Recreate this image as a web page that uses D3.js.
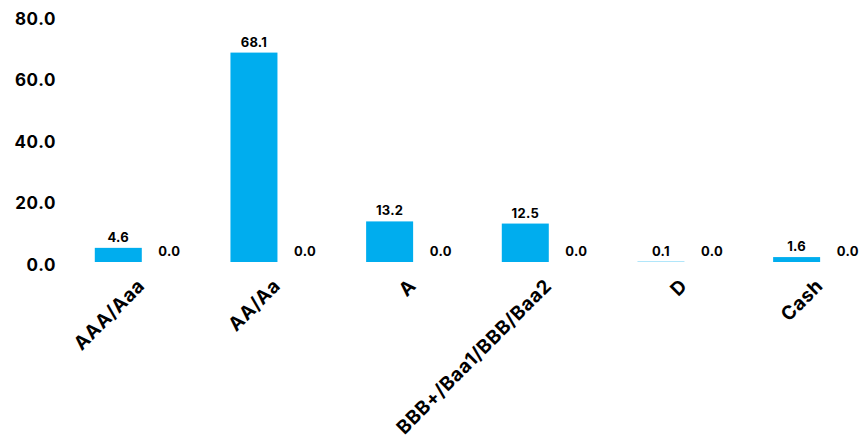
<!DOCTYPE html>
<html>
<head>
<meta charset="utf-8">
<script src="https://cdn.jsdelivr.net/npm/d3@7"></script>
<style>
  html, body { margin: 0; padding: 0; background: #fff; }
  svg { display: block; font-family: "Inter", "Noto Sans", sans-serif; }
</style>
</head>
<body>
<svg id="chart" width="862" height="440"></svg>
<script>
const categories = ["AAA/Aaa", "AA/Aa", "A", "BBB+/Baa1/BBB/Baa2", "D", "Cash"];
const seriesNames = ["Fund", "Benchmark"];
const fundValues = [4.6, 68.1, 13.2, 12.5, 0.1, 1.6];
const benchmarkValues = [0.0, 0.0, 0.0, 0.0, 0.0, 0.0];
const yTicks = [0, 20, 40, 60, 80];
const seriesColors = ["#00adee", "#1b365d"];

const rows = categories.map((c, i) => ({
  category: c,
  values: [
    { series: seriesNames[0], value: fundValues[i] },
    { series: seriesNames[1], value: benchmarkValues[i] }
  ]
}));

const svg = d3.select("#chart");

const x0 = d3.scaleBand()
  .domain(categories)
  .range([76, 890])
  .paddingInner(0.277)
  .paddingOuter(0.1385);

const x1 = d3.scaleBand()
  .domain(seriesNames)
  .range([0, x0.bandwidth()])
  .paddingInner(0.08);

const y = d3.scaleLinear().domain([0, 80]).range([262, 16]);
const color = d3.scaleOrdinal().domain(seriesNames).range(seriesColors);

// Y axis (labels only)
const yAxis = d3.axisLeft(y).tickValues(yTicks).tickFormat(d3.format(".1f")).tickSize(0).tickPadding(0);
const yg = svg.append("g").attr("transform", "translate(56,2)").call(yAxis);
yg.select(".domain").remove();
yg.selectAll("text")
  .attr("fill", "#000")
  .style("font-size", "17px")
  .style("font-weight", "700")
  .style("letter-spacing", "0.6px")
  .style("font-family", "Inter, sans-serif")
  .attr("dy", "0.36em");

// Bars
const groups = svg.append("g").selectAll("g")
  .data(rows).join("g")
  .attr("transform", d => `translate(${x0(d.category)},0)`);

groups.selectAll("rect")
  .data(d => d.values).join("rect")
  .attr("x", d => x1(d.series))
  .attr("width", x1.bandwidth())
  .attr("y", d => y(d.value))
  .attr("height", d => y(0) - y(d.value))
  .attr("fill", d => color(d.series));

groups.selectAll("text.val")
  .data(d => d.values).join("text")
  .attr("class", "val")
  .attr("x", d => x1(d.series) + x1.bandwidth() / 2)
  .attr("y", d => y(d.value) - 6)
  .attr("text-anchor", "middle")
  .style("font-size", "13px")
  .style("font-weight", "700")
  .style("letter-spacing", "0.3px")
  .attr("fill", "#000")
  .text(d => d3.format(".1f")(d.value));

// X axis (rotated labels)
const xAxis = d3.axisBottom(x0).tickSize(0).tickPadding(0);
const xg = svg.append("g").attr("transform", "translate(2,287)").call(xAxis);
xg.select(".domain").remove();
xg.selectAll("text")
  .attr("fill", "#000")
  .attr("text-anchor", "end")
  .attr("dy", "0")
  .attr("transform", "rotate(-45)")
  .style("font-size", "19px")
  .style("font-weight", "700")
  .style("letter-spacing", "0.6px")
  .style("font-family", "Inter, sans-serif");
</script>
</body>
</html>
